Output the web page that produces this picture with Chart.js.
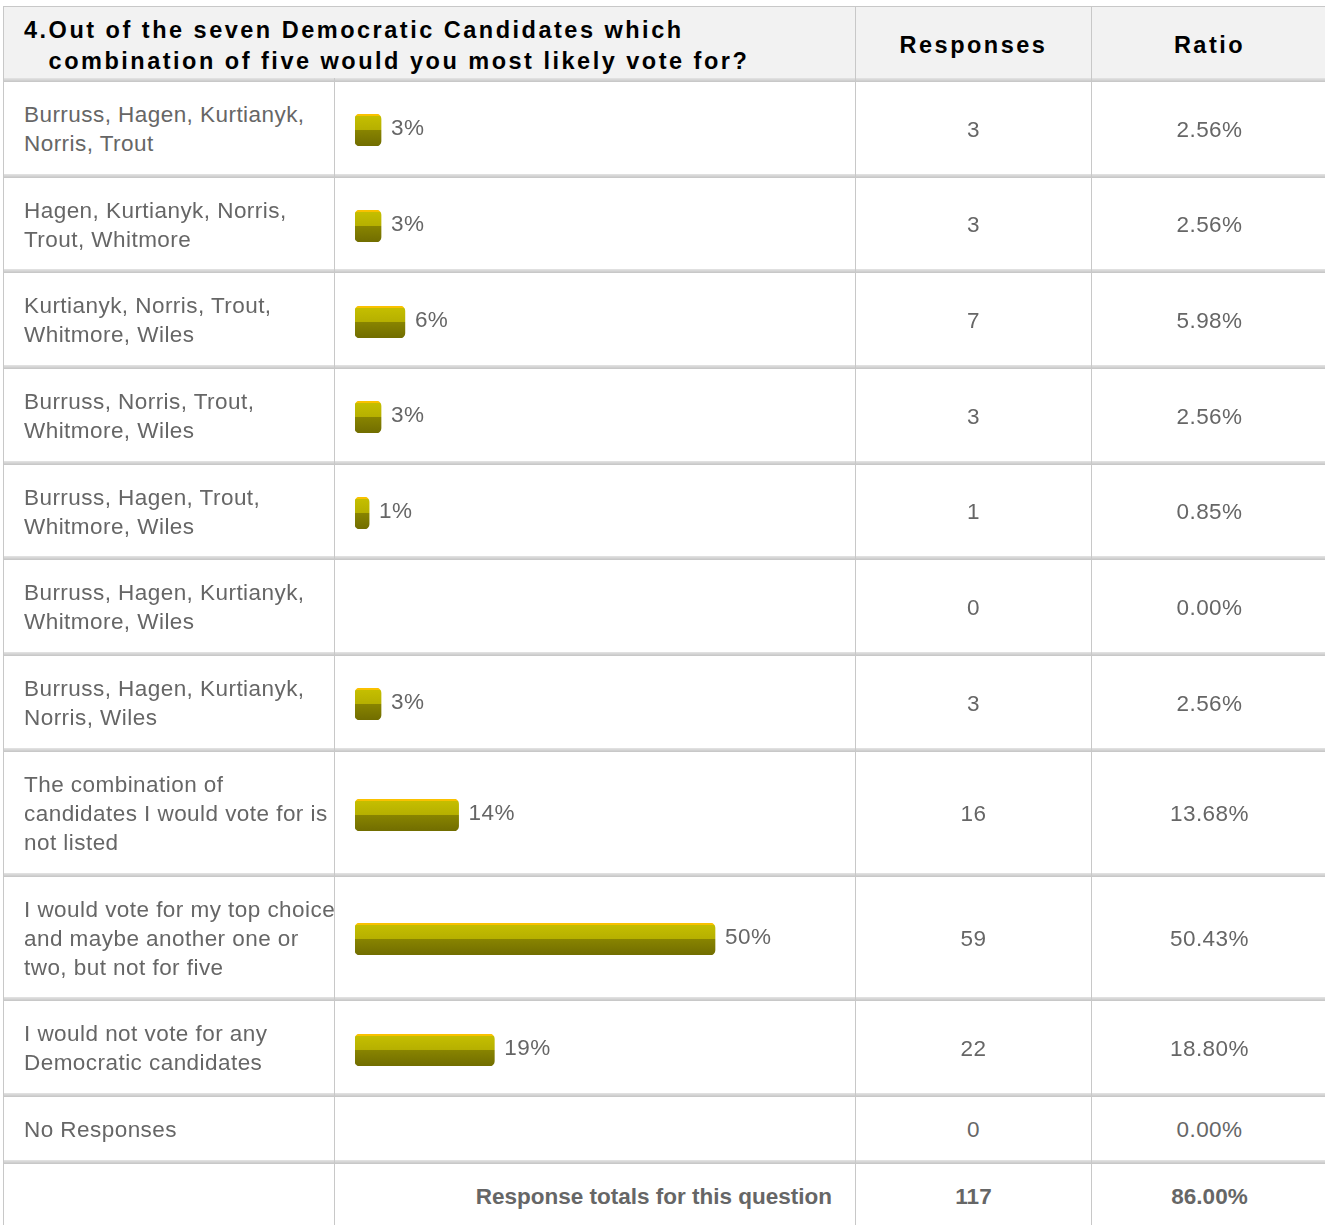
<!DOCTYPE html>
<html lang="en">
<head>
    <meta charset="UTF-8">
    <meta name="viewport" content="width=device-width, initial-scale=1.0">
    <title>Question 4 - combination of five</title>
    <!-- Chart.js -->
    <script src="https://cdn.jsdelivr.net/npm/chart.js"></script>
    <style>
        html, body { margin: 0; padding: 0; background: #fff; overflow: hidden; }
        body { font-family: "Liberation Sans", Arial, sans-serif; }
        .grid {
            position: absolute; left: 3px; top: 6px;
            display: grid;
            grid-template-columns: 331px 521px 236px 236px;
            border-top: 1px solid #c8c8c8;
        }
        .cell {
            box-sizing: border-box;
            display: flex; align-items: center;
            border-left: 1px solid #c8c8c8;
            color: #666;
            font-size: 22.5px; letter-spacing: 0.45px; line-height: 29px;
            white-space: nowrap;
            background: #fff linear-gradient(#e4e4e4, #c4c4c4) top left / 100% 4px no-repeat;
            padding: 22px 0 15.7px 0;
        }
        .head {
            background: #f2f2f2; color: #000;
            font-weight: bold; font-size: 23.5px; letter-spacing: 2.5px; line-height: 31px;
            height: 71px; padding: 6px 0 0 0;
        }
        .head.q { grid-column: span 2; padding-left: 20px; }
        .head.q .inner { display: flex; align-items: flex-start; }
        .label { padding-left: 20px; }
        /* la celda de la barra no debe fijar la altura de la fila */
        .bar { padding: 4px 0 0 20px; }
        .bar canvas { display: block; margin-top: 5px; }
        .num { justify-content: center; }
        .foot { font-weight: bold; letter-spacing: 0; }
        .foot.right { justify-content: flex-end; padding-right: 23px; }
    </style>
</head>
<body>
    <div class="grid" id="table"></div>

    <script>
        // Datos de la pregunta
        const questionNumber = '4.';
        const questionLines = ['Out of the seven Democratic Candidates which', 'combination of five would you most likely vote for?'];
        const columnHeaders = ['Responses', 'Ratio'];

        const categories = [
            ['Burruss, Hagen, Kurtianyk,', 'Norris, Trout'],
            ['Hagen, Kurtianyk, Norris,', 'Trout, Whitmore'],
            ['Kurtianyk, Norris, Trout,', 'Whitmore, Wiles'],
            ['Burruss, Norris, Trout,', 'Whitmore, Wiles'],
            ['Burruss, Hagen, Trout,', 'Whitmore, Wiles'],
            ['Burruss, Hagen, Kurtianyk,', 'Whitmore, Wiles'],
            ['Burruss, Hagen, Kurtianyk,', 'Norris, Wiles'],
            ['The combination of', 'candidates I would vote for is', 'not listed'],
            ['I would vote for my top choice', 'and maybe another one or', 'two, but not for five'],
            ['I would not vote for any', 'Democratic candidates'],
            ['No Responses']
        ];
        const responses = [3, 3, 7, 3, 1, 0, 3, 16, 59, 22, 0];
        const ratios = [2.56, 2.56, 5.98, 2.56, 0.85, 0.00, 2.56, 13.68, 50.43, 18.80, 0.00];

        const totalsLabel = 'Response totals for this question';
        const totalResponses = 117;
        const totalRatio = 86.00;

        // Escala de las barras
        const BAR_BASE = -1.17;
        const X_MAX = 67.63;

        const table = document.getElementById('table');

        function addCell(cls, html) {
            const div = document.createElement('div');
            div.className = 'cell ' + cls;
            if (html !== undefined) div.innerHTML = html;
            table.appendChild(div);
            return div;
        }

        // Cabecera
        addCell('head q', '<div class="inner"><span>' + questionNumber + '</span><span>' + questionLines.join('<br>') + '</span></div>');
        columnHeaders.forEach(h => addCell('head num', h));

        // Relleno degradado de la barra
        function barFill(context) {
            const chart = context.chart;
            const a = chart.chartArea;
            if (!a) return '#b5af00';
            const g = chart.ctx.createLinearGradient(0, a.top, 0, a.bottom);
            g.addColorStop(0, '#f9c100');
            g.addColorStop(0.05, '#f9c100');
            g.addColorStop(0.07, '#c4be00');
            g.addColorStop(0.49, '#b6b000');
            g.addColorStop(0.51, '#888400');
            g.addColorStop(1, '#716d00');
            return g;
        }

        // Etiqueta de porcentaje al final de la barra
        const pctLabel = {
            id: 'pctLabel',
            afterDatasetsDraw(chart) {
                const ctx = chart.ctx;
                const ds = chart.data.datasets[0];
                chart.getDatasetMeta(0).data.forEach((el, i) => {
                    const v = ds.data[i];
                    if (v == null) return;
                    ctx.save();
                    ctx.font = '22.5px "Liberation Sans", Arial, sans-serif';
                    ctx.fillStyle = '#666';
                    ctx.textBaseline = 'alphabetic';
                    ctx.fillText(Math.round(v) + '%', el.x + 10, el.y + 5);
                    ctx.restore();
                });
            }
        };

        categories.forEach((cat, i) => {
            addCell('label', cat.join('<br>'));
            const barCell = addCell('bar');
            const canvas = document.createElement('canvas');
            canvas.width = 480;
            canvas.height = 32;
            barCell.appendChild(canvas);
            addCell('num', String(responses[i]));
            addCell('num', ratios[i].toFixed(2) + '%');

            new Chart(canvas.getContext('2d'), {
                type: 'bar',
                data: {
                    labels: [cat.join(' ')],
                    datasets: [{
                        data: [ratios[i] === 0 ? null : ratios[i]],
                        base: BAR_BASE,
                        backgroundColor: barFill,
                        borderRadius: 5,
                        borderSkipped: false,
                        barThickness: 32
                    }]
                },
                options: {
                    indexAxis: 'y',
                    responsive: false,
                    animation: false,
                    events: [],
                    plugins: { legend: { display: false }, tooltip: { enabled: false } },
                    scales: {
                        x: { display: false, min: BAR_BASE, max: X_MAX },
                        y: { display: false }
                    }
                },
                plugins: [pctLabel]
            });
        });

        // Totales
        addCell('foot', '');
        addCell('foot right', totalsLabel);
        addCell('foot num', String(totalResponses));
        addCell('foot num', totalRatio.toFixed(2) + '%');
    </script>
</body>
</html>
